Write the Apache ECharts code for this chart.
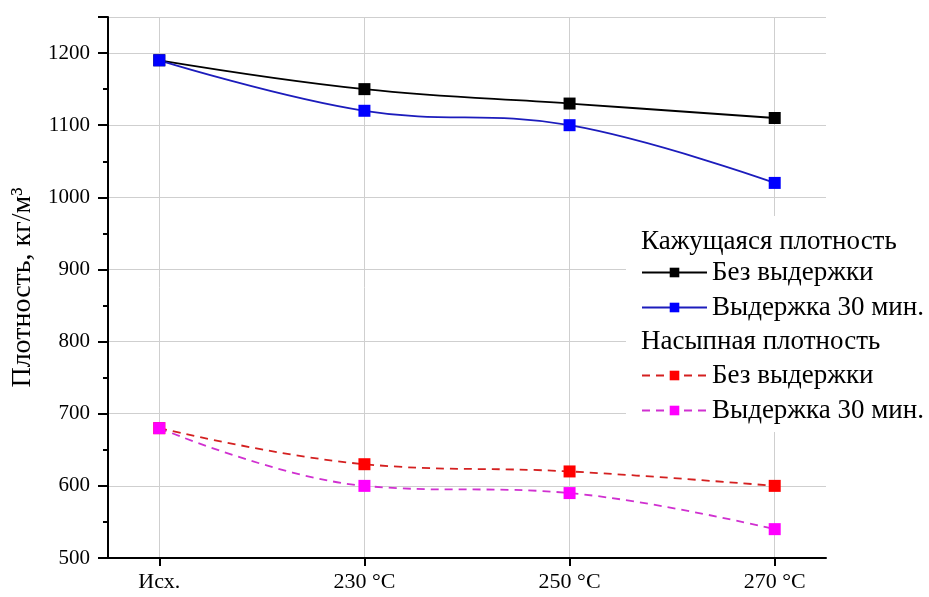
<!DOCTYPE html>
<html>
<head>
<meta charset="utf-8">
<script src="https://cdn.jsdelivr.net/npm/echarts@6/dist/echarts.min.js"></script>
<style>
  html, body { margin: 0; padding: 0; background: #fff; }
  #chart { width: 929px; height: 597px; }
</style>
</head>
<body>
<div id="chart"></div>
<script>
// категории по оси X
const categories = ['Исх.', '230 °C', '250 °C', '270 °C'];

// Кажущаяся плотность
const apparentNoHold = [1190, 1150, 1130, 1110];
const apparentHold30 = [1190, 1120, 1100, 1020];
// Насыпная плотность
const bulkNoHold = [680, 630, 620, 600];
const bulkHold30 = [680, 600, 590, 540];

const headers = ['Кажущаяся плотность', 'Насыпная плотность'];
const itemNames = ['Без выдержки', 'Выдержка 30 мин.'];

const FONT = '"Liberation Serif", "Times New Roman", serif';

const toPoints = arr => arr.map((v, i) => [i, v]);

function makeSeries(name, values, lineColor, markColor, dashed) {
  return {
    name,
    type: 'line',
    data: toPoints(values),
    smooth: 0.4,
    symbol: 'rect',
    symbolSize: 12,
    lineStyle: { color: lineColor, width: 1.8, type: dashed ? [8, 6] : 'solid' },
    itemStyle: { color: markColor },
    z: 3,
  };
}

const chart = echarts.init(document.getElementById('chart'));

// общий вид легенды (две группы)
const legendCommon = {
  orient: 'vertical',
  left: 641,
  padding: 0,
  itemWidth: 65,
  itemHeight: 12,
  itemGap: 8,
  textStyle: { fontFamily: FONT, fontSize: 27, color: '#000' },
  formatter: n => n.split('|')[1],
  selectedMode: false,
  z: 6,
};

const option = {
  animation: false,
  grid: { left: 108, right: 103, top: 17, bottom: 39 },
  xAxis: {
    type: 'value',
    min: -0.25,
    max: 3.25,
    axisLine: { onZero: false, lineStyle: { color: '#000', width: 2 } },
    axisTick: { show: true, customValues: [0, 1, 2, 3], length: 8, lineStyle: { color: '#000', width: 2 } },
    axisLabel: {
      customValues: [0, 1, 2, 3],
      formatter: v => categories[v],
      margin: 13,
      fontFamily: FONT, fontSize: 22, color: '#000',
    },
    splitLine: { show: true, lineStyle: { color: '#cfcfcf', width: 1 } },
  },
  yAxis: {
    type: 'value',
    min: 500,
    max: 1250,
    interval: 100,
    name: 'Плотность, кг/м³',
    nameLocation: 'middle',
    nameGap: 60,
    nameTextStyle: { fontFamily: FONT, fontSize: 28, color: '#000' },
    axisLine: { show: true, onZero: false, lineStyle: { color: '#000', width: 2 } },
    axisTick: { show: true, length: 10, lineStyle: { color: '#000', width: 2 } },
    minorTick: { show: true, splitNumber: 2, length: 5, lineStyle: { color: '#000', width: 2 } },
    axisLabel: {
      margin: 18,
      formatter: v => (v % 100 === 0 ? String(v) : ''),
      fontFamily: FONT, fontSize: 21, color: '#000',
    },
    splitLine: { show: true, lineStyle: { color: '#cfcfcf', width: 1 } },
  },
  legend: [
    Object.assign({}, legendCommon, { top: 259, data: itemNames.map(n => 'a|' + n) }),
    Object.assign({}, legendCommon, { top: 362, data: itemNames.map(n => 'b|' + n) }),
  ],
  graphic: [
    { type: 'rect', left: 626, top: 216, shape: { width: 303, height: 216 }, style: { fill: '#fff' }, z: 5 },
    { type: 'text', left: 641, top: 228, style: { text: headers[0], font: '27px ' + FONT, fill: '#000' }, z: 6 },
    { type: 'text', left: 641, top: 328, style: { text: headers[1], font: '27px ' + FONT, fill: '#000' }, z: 6 },
  ],
  series: [
    makeSeries('a|' + itemNames[0], apparentNoHold, '#000000', '#000000', false),
    makeSeries('a|' + itemNames[1], apparentHold30, '#1c1cbc', '#0000ff', false),
    makeSeries('b|' + itemNames[0], bulkNoHold, '#d42020', '#ff0000', true),
    makeSeries('b|' + itemNames[1], bulkHold30, '#d030d0', '#ff00ff', true),
  ],
};

chart.setOption(option);
</script>
</body>
</html>
